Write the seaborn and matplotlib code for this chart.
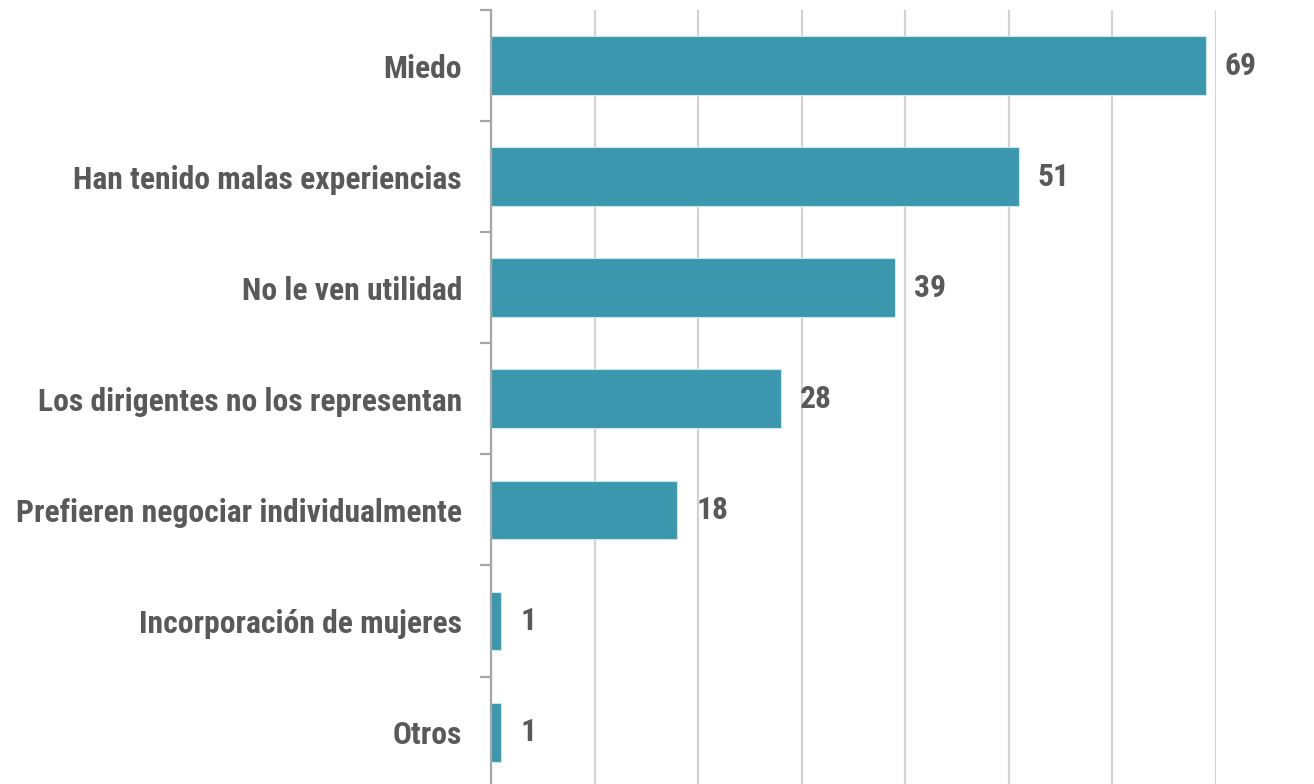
import matplotlib
matplotlib.use("Agg")
import matplotlib.pyplot as plt
from matplotlib import font_manager
import seaborn as sns
import pandas as pd

# Datos del gráfico
categorias = [
    "Miedo",
    "Han tenido malas experiencias",
    "No le ven utilidad",
    "Los dirigentes no los representan",
    "Prefieren negociar individualmente",
    "Incorporación de mujeres",
    "Otros",
]
valores = [69, 51, 39, 28, 18, 1, 1]

df = pd.DataFrame({"categoria": categorias, "valor": valores})

sns.set_style("white")

# fuente condensada si existe, si no Roboto normal más pequeña
try:
    font_manager.findfont("Roboto Condensed", fallback_to_default=False)
    familia, tam = ["Roboto Condensed", "DejaVu Sans"], 22.8
except ValueError:
    familia, tam = ["Roboto", "Liberation Sans", "DejaVu Sans"], 17
plt.rcParams["font.family"] = familia

color_barra = "#3b97ad"
color_texto = "#595959"
color_eje = "#a6a6a6"

fig = plt.figure(figsize=(13.14, 7.84), dpi=100)
ax = fig.add_axes([0.3737, -0.0047, 0.5517, 0.9919])

sns.barplot(data=df, x="valor", y="categoria", orient="h", color=color_barra,
            width=0.53, edgecolor="#cfe6ec", linewidth=0.8, saturation=1, ax=ax)

ax.set_xlim(0, 70)
ax.set_ylim(len(categorias) - 0.5, -0.5)
ax.set_xticks(range(0, 71, 10))
ax.set_xticklabels([])
ax.tick_params(axis="x", length=0)
ax.grid(axis="x", color="#d3d3d3", linewidth=1.6)
ax.set_axisbelow(True)

# ticks del eje y en los límites de cada categoría
ax.set_yticks(range(len(categorias)))
ax.set_yticklabels(categorias, fontsize=tam, fontweight="bold", color=color_texto)
ax.set_yticks([i + 0.5 for i in range(-1, len(categorias))], minor=True)
ax.tick_params(axis="y", which="minor", left=True, length=8, width=1.6,
               color=color_eje, direction="out")
ax.tick_params(axis="y", which="major", left=False, length=0, pad=21)

for s in ["top", "right", "bottom"]:
    ax.spines[s].set_visible(False)
ax.spines["left"].set_color(color_eje)
ax.spines["left"].set_linewidth(1.6)

ax.set_xlabel("")
ax.set_ylabel("")

for i, v in enumerate(valores):
    ax.text(v + 1.8, i, str(v), va="center", ha="left", fontsize=tam,
            fontweight="bold", color=color_texto)

fig.savefig("out.png", dpi=100)
